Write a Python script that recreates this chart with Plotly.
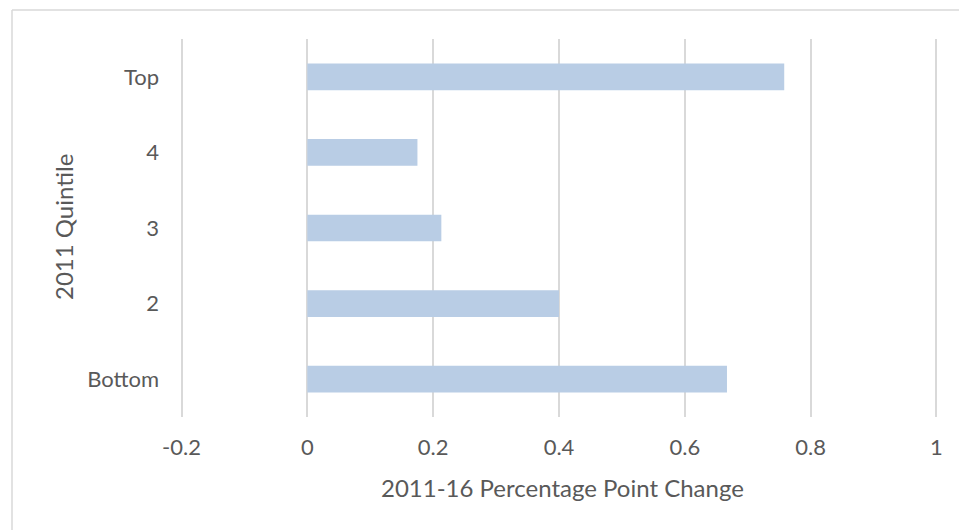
import plotly.graph_objects as go

categories = ["Bottom", "2", "3", "4", "Top"]
values = [0.667, 0.40, 0.213, 0.175, 0.758]
x_ticks = [-0.2, 0, 0.2, 0.4, 0.6, 0.8, 1]
x_tick_labels = ["-0.2", "0", "0.2", "0.4", "0.6", "0.8", "1"]
x_title = "2011-16 Percentage Point Change"
y_title = "2011 Quintile"

W, H = 959, 530
ml, mr, mt, mb = 179, 20, 39, 113
pw, ph = W - ml - mr, H - mt - mb

def px_to_paper_x(px):
    return (px - ml) / pw

def px_to_paper_y(py):
    return (H - mb - py) / ph

FONT = "Lato"
GRAY = "#595959"
BORDER = "#d9d9d9"

fig = go.Figure(
    go.Bar(
        x=values,
        y=categories,
        orientation="h",
        marker=dict(color="#b9cde5", line=dict(width=0)),
        hoverinfo="x+y",
    )
)

fig.update_layout(
    width=W,
    height=H,
    margin=dict(l=ml, r=mr, t=mt, b=mb),
    paper_bgcolor="white",
    plot_bgcolor="white",
    bargap=0.647,
    showlegend=False,
    font=dict(family=FONT, color=GRAY, size=22),
)

fig.update_xaxes(
    range=[-0.204, 1.004],
    tickvals=x_ticks,
    ticktext=x_tick_labels,
    showgrid=True,
    gridcolor=BORDER,
    gridwidth=1.5,
    zeroline=False,
    showline=False,
    ticks="",
    ticklabelstandoff=15,
    tickfont=dict(family=FONT, size=22, color=GRAY),
)

fig.update_yaxes(
    showgrid=False,
    zeroline=False,
    showline=False,
    ticks="",
    ticklabelstandoff=19,
    tickfont=dict(family=FONT, size=22, color=GRAY),
)

fig.add_annotation(
    text=x_title, xref="paper", yref="paper",
    x=px_to_paper_x(562), y=px_to_paper_y(487),
    xanchor="center", yanchor="middle", showarrow=False,
    font=dict(family=FONT, size=24, color=GRAY),
)
fig.add_annotation(
    text=y_title, xref="paper", yref="paper",
    x=px_to_paper_x(63), y=px_to_paper_y(227),
    xanchor="center", yanchor="middle", showarrow=False, textangle=-90,
    font=dict(family=FONT, size=24, color=GRAY),
)

# chart-area border (only its top and left sides are inside the picture)
fig.add_shape(
    type="line", xref="paper", yref="paper",
    x0=px_to_paper_x(12), y0=px_to_paper_y(10),
    x1=px_to_paper_x(W), y1=px_to_paper_y(10),
    line=dict(color=BORDER, width=1.5), layer="below",
)
fig.add_shape(
    type="line", xref="paper", yref="paper",
    x0=px_to_paper_x(12), y0=px_to_paper_y(10),
    x1=px_to_paper_x(12), y1=px_to_paper_y(H),
    line=dict(color=BORDER, width=1.5), layer="below",
)

fig.write_html(
    "out.html",
    config={"displayModeBar": False},
    post_script=(
        "document.documentElement.style.overflow='hidden';"
        "document.body.style.margin='0';"
        "document.body.style.overflow='hidden';"
    ),
)
